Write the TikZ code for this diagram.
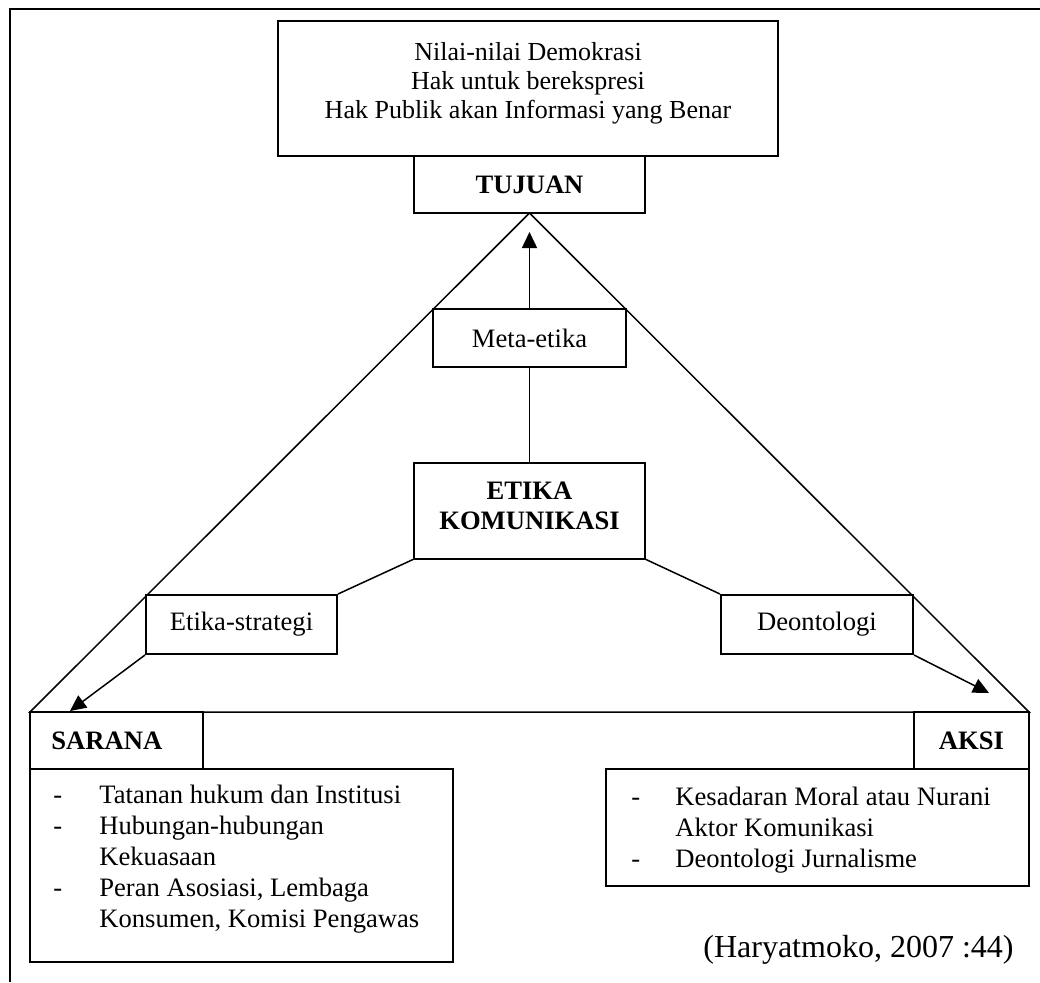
\documentclass[tikz,border=0pt]{standalone}
\usepackage{fontspec}
\setmainfont{Liberation Serif}
\usetikzlibrary{arrows.meta}

\tikzset{
  kotak/.style={draw,fill=white,line width=1pt,inner sep=0pt,
    font={\fontsize{13.3pt}{15.5pt}\selectfont}},
  judul/.style={kotak,font={\fontsize{13.3pt}{15.5pt}\selectfont\bfseries}},
  teks/.style={inner sep=0pt,font={\fontsize{13.3pt}{15.5pt}\selectfont}},
  garis/.style={line width=0.75pt},
  panah/.style={garis,-{Triangle[length=8pt,width=7.5pt]}}
}

\begin{document}
\begin{tikzpicture}[x=0.5pt,y=-0.5pt]
  \useasboundingbox (0,0) rectangle (1040,982);
  % frame (only top and left edge visible)
  \draw[line width=1pt] (1040,9) -- (10,9) -- (10,982);

  % corners of the triangle
  \coordinate (kiri) at (30,712);
  \coordinate (puncak) at (529.5,213);
  \coordinate (kanan) at (1029,712);
  \draw[garis] (kiri) -- (puncak) -- (kanan) -- cycle;

  % top
  \node[kotak,minimum width=250pt,minimum height=67.5pt] (nilai) at (528,88) {};
  \node[teks,align=center,font={\fontsize{13pt}{14.5pt}\selectfont}] (nilaiteks) at (528,83)
    {Nilai-nilai Demokrasi\\Hak untuk berekspresi\\Hak Publik akan Informasi yang Benar};
  \node[judul,minimum width=115.5pt,minimum height=28.5pt] (tujuan) at (529.5,184.5) {TUJUAN};

  % middle
  \node[kotak,minimum width=96.5pt,minimum height=29pt] (meta) at (529.5,338) {Meta-etika};
  \node[judul,minimum width=115.5pt,minimum height=48pt] (etika) at (529.5,510.5) {};
  \node[teks,align=center,font={\fontsize{13.3pt}{15pt}\selectfont\bfseries}] (etikateks) at (529.5,506)
    {ETIKA\\KOMUNIKASI};
  \node[kotak,minimum width=95.5pt,minimum height=29.5pt] (strategi) at (241.5,624.5) {Etika-strategi};
  \node[kotak,minimum width=96pt,minimum height=29.5pt] (deon) at (817,624.5) {Deontologi};

  % bottom
  \node[judul,minimum width=86.5pt,minimum height=28.5pt] (sarana) at (116.5,740.5) {};
  \node[teks,anchor=west,font={\fontsize{13.3pt}{15.5pt}\selectfont\bfseries}] (saranateks) at (51,741) {SARANA};
  \node[judul,minimum width=57.5pt,minimum height=28.5pt] (aksi) at (971.5,740.5) {AKSI};
  \node[kotak,minimum width=211.5pt,minimum height=96.5pt] (saranaisi) at (241.5,865.5) {};
  \node[kotak,minimum width=211.5pt,minimum height=58.5pt] (aksiisi) at (817.5,827.5) {};

  \node[teks,anchor=base west] (saranalist) at (53,803) {\begin{tabular}[t]{@{}p{23pt}@{}l@{}}
    - & Tatanan hukum dan Institusi\\
    - & Hubungan-hubungan\\
      & Kekuasaan\\
    - & Peran Asosiasi, Lembaga\\
      & Konsumen, Komisi Pengawas
  \end{tabular}};
  \node[teks,anchor=base west] (aksilist) at (631,805) {\begin{tabular}[t]{@{}p{22pt}@{}l@{}}
    - & Kesadaran Moral atau Nurani\\
      & Aktor Komunikasi\\
    - & Deontologi Jurnalisme
  \end{tabular}};

  % connectors
  \coordinate (ujungmeta) at (529.5,232);
  \coordinate (ujungsarana) at (70,711);
  \coordinate (ujungaksi) at (989,693);
  \draw[panah] (meta.north) -- (ujungmeta);
  \draw[garis] (meta.south) -- (etika.north);
  \draw[garis] (etika.south west) -- (strategi.north east);
  \draw[garis] (etika.south east) -- (deon.north west);
  \draw[panah] (strategi.south west) -- (ujungsarana);
  \draw[panah] (deon.south east) -- (ujungaksi);

  \node[inner sep=0pt,anchor=base west,font={\fontsize{16pt}{19pt}\selectfont}] (sumber) at (703,957)
    {(Haryatmoko, 2007 :44)};
\end{tikzpicture}
\end{document}
